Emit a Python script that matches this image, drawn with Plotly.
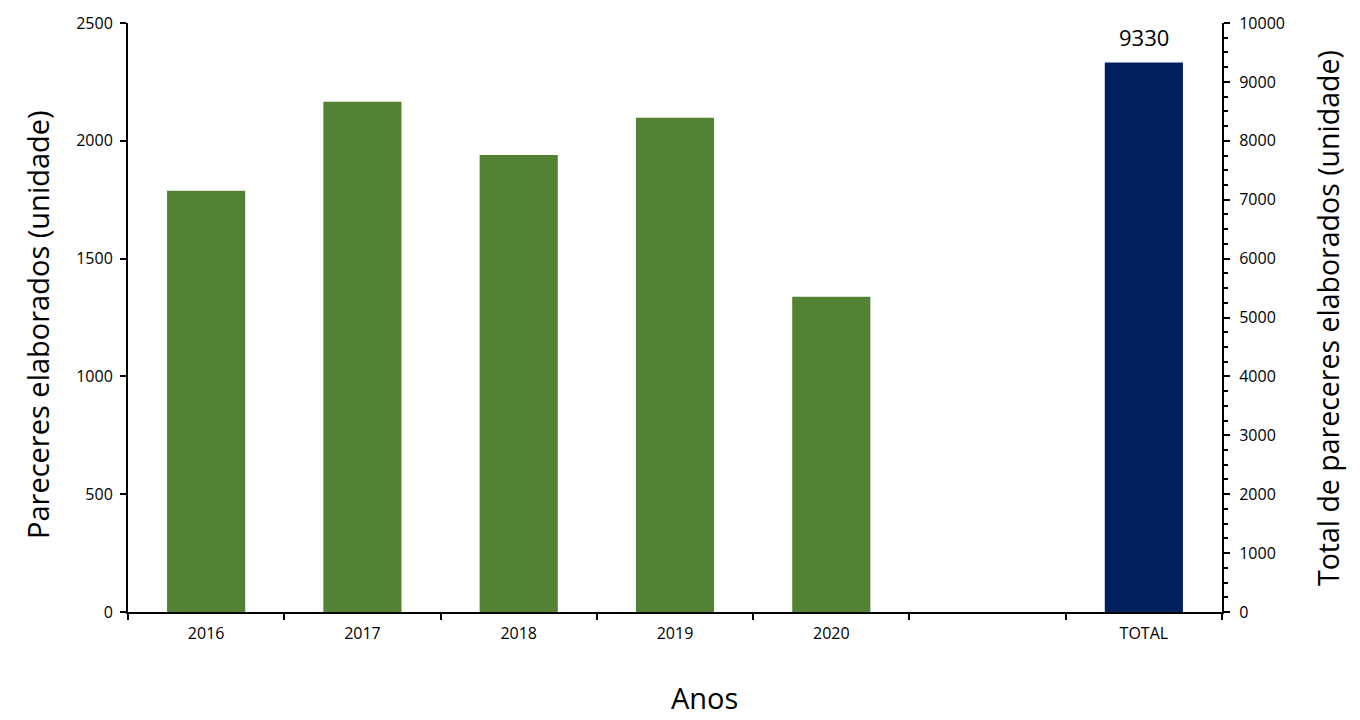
import plotly.graph_objects as go

categories = ["2016", "2017", "2018", "2019", "2020", " ", "TOTAL"]
years = ["2016", "2017", "2018", "2019", "2020"]
pareceres = [1788, 2166, 1940, 2098, 1338]
total_label = ["TOTAL"]
total_value = [9330]

font_family = "Open Sans, Liberation Sans, sans-serif"

OFF = 8  # default page body margin
W, H = 1360 - OFF, 720 - OFF
px0, px1, py0, py1 = 128, 1222, 23, 612  # target plot area on screen
L, R = px0 - OFF, W - (px1 - OFF)
T, B = py0 - OFF, H - (py1 - OFF)
pw, ph = px1 - px0, py1 - py0


def xp(sx):
    return (sx - px0) / pw


def yp(sy):
    return (py1 - sy) / ph


fig = go.Figure()
fig.add_trace(go.Bar(
    x=years, y=pareceres, marker_color="#548235", marker_line_width=0, width=0.5,
    name="Pareceres", yaxis="y", showlegend=False,
))
fig.add_trace(go.Bar(
    x=total_label, y=total_value, marker_color="#002060", marker_line_width=0, width=0.5,
    name="Total", yaxis="y2", showlegend=False,
))

axis_common = dict(
    showline=True, linecolor="black", linewidth=2,
    ticks="outside", ticklen=6, tickwidth=1.5, tickcolor="black",
    tickfont=dict(size=16), showgrid=False, automargin=False,
)

annotations = [
    dict(text=str(v), xref="x", yref="y2", x=c, y=v,
         xanchor="center", yanchor="bottom", yshift=8, showarrow=False,
         font=dict(size=22, color="black"))
    for c, v in zip(total_label, total_value)
]
annotations += [
    dict(text="Pareceres elaborados (unidade)", textangle=-90,
         xref="paper", yref="paper", x=xp(37), y=yp(325),
         xanchor="center", yanchor="middle", showarrow=False,
         font=dict(size=29)),
    dict(text="Total de pareceres elaborados (unidade)", textangle=-90,
         xref="paper", yref="paper", x=xp(1328), y=yp(318),
         xanchor="center", yanchor="middle", showarrow=False,
         font=dict(size=28.5)),
    dict(text="Anos", xref="paper", yref="paper",
         x=xp(704), y=yp(697),
         xanchor="center", yanchor="middle", showarrow=False,
         font=dict(size=29)),
]

fig.update_layout(
    width=W, height=H,
    margin=dict(l=L, r=R, t=T, b=B, autoexpand=False),
    plot_bgcolor="white", paper_bgcolor="white",
    barmode="overlay",
    font=dict(family=font_family, color="black"),
    xaxis=dict(
        type="category", categoryorder="array", categoryarray=categories,
        range=[-0.5, 6.5], tickson="boundaries", ticklabelstandoff=6,
        **axis_common,
    ),
    yaxis=dict(
        range=[0, 2500], dtick=500, tick0=0, zeroline=False,
        ticklabelstandoff=4,
        **axis_common,
    ),
    yaxis2=dict(
        overlaying="y", side="right",
        range=[0, 10000], dtick=1000, tick0=0, tickformat="d", zeroline=False,
        ticklabelstandoff=6,
        minor=dict(dtick=250, ticks="outside", ticklen=4, tickcolor="black", tickwidth=1.5),
        **axis_common,
    ),
    annotations=annotations,
)

fig.write_html("out.html")
